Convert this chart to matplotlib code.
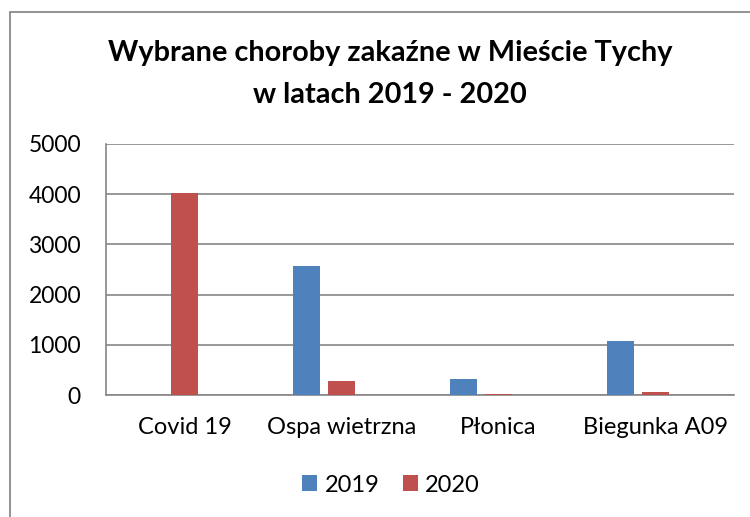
import matplotlib
matplotlib.use("Agg")
import matplotlib.pyplot as plt
from matplotlib.patches import Rectangle
import numpy as np

categories = ["Covid 19", "Ospa wietrzna", "Płonica", "Biegunka A09"]
series_names = ["2019", "2020"]
values_2019 = [0, 2575, 325, 1080]
values_2020 = [4015, 270, 20, 60]
yticks = [0, 1000, 2000, 3000, 4000, 5000]

plt.rcParams['font.family'] = ['Lato', 'DejaVu Sans']

W, H = 750, 517
fig = plt.figure(figsize=(W / 100, H / 100), dpi=100)
ax = fig.add_axes([106 / W, 1 - 395 / H, 628 / W, 251 / H])

x = np.arange(len(categories))
bw = 0.172
off = 0.22
ax.bar(x - off, values_2019, width=bw, color="#4F81BD", label=series_names[0], zorder=3)
ax.bar(x, values_2020, width=bw, color="#C0504D", label=series_names[1], zorder=3)

ax.set_xlim(-0.5, len(categories) - 0.5)
ax.set_ylim(0, 5000)
ax.set_yticks(yticks)
ax.set_yticklabels([str(v) for v in yticks])
ax.set_xticks(x)
ax.set_xticklabels(categories)

grid_c = "#868686"
ax.yaxis.grid(True, color=grid_c, linewidth=1.2, zorder=0)
ax.set_axisbelow(True)
for s in ["top", "right"]:
    ax.spines[s].set_visible(False)
ax.spines["left"].set_color(grid_c)
ax.spines["bottom"].set_color(grid_c)
ax.spines["left"].set_linewidth(1.2)
ax.spines["bottom"].set_linewidth(1.2)
ax.tick_params(axis="y", length=0, labelsize=16.5, colors="black", pad=18)
ax.tick_params(axis="x", length=0, labelsize=17, colors="black", pad=16)

fig.text(390 / W, 1 - 53 / H, "Wybrane choroby zakaźne w Mieście Tychy",
         ha="center", va="center", fontsize=20.8, fontweight="bold")
fig.text(390 / W, 1 - 95 / H, "w latach 2019 - 2020",
         ha="center", va="center", fontsize=20.8, fontweight="bold")

leg = fig.legend(loc="center", bbox_to_anchor=(391 / W, 1 - 485 / H), ncol=2,
                 frameon=False, fontsize=17, handlelength=0.65, handleheight=0.65,
                 handletextpad=0.3, columnspacing=1.0)

border = Rectangle((10 / W, -0.05), 1.0, 1 - 12 / H + 0.05, transform=fig.transFigure,
                   fill=False, edgecolor="#8a8a8a", linewidth=1.3, zorder=10)
fig.patches.append(border)

fig.savefig("out.png", dpi=100)
